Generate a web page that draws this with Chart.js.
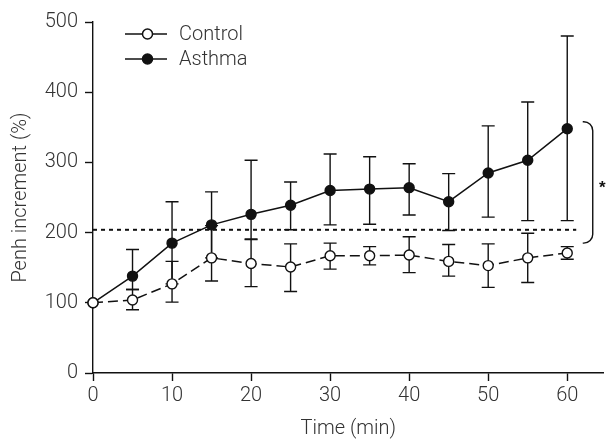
<!DOCTYPE html>
<html><head><meta charset="utf-8">
<script src="https://cdn.jsdelivr.net/npm/chart.js@4"></script>
<style>html,body{margin:0;padding:0;background:#fff}#wrap{width:610px;height:441px}</style>
</head><body><div id="wrap"><canvas id="c" width="610" height="441"></canvas></div>
<script>
const timeMin = [0,5,10,15,20,25,30,35,40,45,50,55,60];
const controlMean  = [100,104,127,164,156,151,167,167,168,159,153,164,171];
const controlUpper = [null,119,159,210,191,184,185,180,194,183,184,199,180];
const controlLower = [null,90,101,131,123,116,148,154,143,138,122,129,162];
const asthmaMean  = [100,138,185,211,226,239,260,262,264,244,285,303,348];
const asthmaUpper = [null,176,244,258,303,272,312,308,298,284,352,386,480];
const asthmaLower = [null,119,127,164,190,204,211,212,225,203,222,217,217];
const yTicks = [0,100,200,300,400,500];
const xTicks = [0,10,20,30,40,50,60];
const thresholdLevel = [204];
const significanceRange = [185,358];
const significanceLabel = ['*'];
const seriesLabels = ['Control','Asthma'];

const INK = '#111';
const TXT = '#333';
const FONT = {family:'Roboto, "Liberation Sans", sans-serif', size:20, weight:'300'};

const errBars = [[controlUpper,controlLower],[asthmaUpper,asthmaLower]];

const extrasPlugin = {
  id:'extras',
  beforeDatasetsDraw(chart){
    const ctx = chart.ctx, xs = chart.scales.x, ys = chart.scales.y;
    ctx.save();
    ctx.strokeStyle = INK; ctx.lineWidth = 2; ctx.setLineDash([4,4]);
    const ty = ys.getPixelForValue(thresholdLevel[0]);
    ctx.beginPath();
    ctx.moveTo(xs.getPixelForValue(timeMin[0]), ty);
    ctx.lineTo(xs.getPixelForValue(timeMin[timeMin.length-1]) + 9, ty);
    ctx.stroke();
    ctx.setLineDash([]);
    ctx.lineWidth = 1.4;
    errBars.forEach(([up,lo])=>{
      timeMin.forEach((t,i)=>{
        if (up[i]==null) return;
        const x = xs.getPixelForValue(t);
        const y1 = ys.getPixelForValue(up[i]), y2 = ys.getPixelForValue(lo[i]);
        ctx.beginPath();
        ctx.moveTo(x,y1); ctx.lineTo(x,y2);
        ctx.moveTo(x-6.5,y1); ctx.lineTo(x+6.5,y1);
        ctx.moveTo(x-6.5,y2); ctx.lineTo(x+6.5,y2);
        ctx.stroke();
      });
    });
    ctx.restore();
  },
  afterDraw(chart){
    const ctx = chart.ctx, xs = chart.scales.x, ys = chart.scales.y;
    ctx.save();
    const xr = xs.getPixelForValue(timeMin[timeMin.length-1]);
    const yTop = ys.getPixelForValue(significanceRange[1]);
    const yBot = ys.getPixelForValue(significanceRange[0]);
    const xl = xr + 15.5, xv = xr + 25.5, r = 9;
    ctx.strokeStyle = INK; ctx.lineWidth = 1.4;
    ctx.beginPath();
    ctx.moveTo(xl, yTop);
    ctx.arcTo(xv, yTop, xv, yTop + r, r);
    ctx.lineTo(xv, yBot - r);
    ctx.arcTo(xv, yBot, xl, yBot, r);
    ctx.lineTo(xl, yBot);
    ctx.stroke();
    ctx.fillStyle = INK;
    ctx.font = 'bold 17px "Liberation Sans", sans-serif';
    ctx.textAlign = 'center'; ctx.textBaseline = 'middle';
    ctx.fillText(significanceLabel[0], xr + 35, (yTop + yBot)/2 + 6);
    const ly = [34, 59];
    chart.data.datasets.forEach((ds, i)=>{
      const y = ly[i];
      ctx.strokeStyle = INK; ctx.lineWidth = 1.5; ctx.setLineDash([]);
      ctx.beginPath(); ctx.moveTo(125, y); ctx.lineTo(167, y); ctx.stroke();
      ctx.beginPath(); ctx.arc(147.5, y, 5, 0, Math.PI*2);
      ctx.fillStyle = ds.pointBackgroundColor; ctx.fill(); ctx.stroke();
      ctx.fillStyle = TXT;
      ctx.font = `${FONT.weight} ${FONT.size}px ${FONT.family}`;
      ctx.textAlign = 'left'; ctx.textBaseline = 'middle';
      ctx.fillText(ds.label, 179, y + 1);
    });
    ctx.restore();
  }
};

new Chart(document.getElementById('c'), {
  type:'line',
  data:{
    datasets:[
      {label:seriesLabels[0], data:timeMin.map((t,i)=>({x:t,y:controlMean[i]})),
       borderColor:INK, borderWidth:1.5, borderDash:[10,5], pointRadius:5,
       pointBackgroundColor:'#fff', pointBorderColor:INK, pointBorderWidth:1.4, clip:false},
      {label:seriesLabels[1], data:timeMin.map((t,i)=>({x:t,y:asthmaMean[i]})),
       borderColor:INK, borderWidth:1.5, pointRadius:5,
       pointBackgroundColor:INK, pointBorderColor:INK, pointBorderWidth:1.4, clip:false}
    ]
  },
  options:{
    responsive:false, animation:false, devicePixelRatio:1,
    layout:{padding:{top:22,right:-6,left:0,bottom:0}},
    plugins:{legend:{display:false}, tooltip:{enabled:false}},
    elements:{line:{tension:0}},
    scales:{
      x:{type:'linear', min:0, max:64.6,
        afterBuildTicks:s=>{s.ticks = xTicks.map(v=>({value:v}));},
        afterFit:s=>{s.height = 68;},
        ticks:{font:FONT, color:TXT, padding:3, maxRotation:0},
        grid:{drawOnChartArea:false, drawTicks:true, tickLength:8, tickColor:INK, tickWidth:1.4},
        border:{color:INK, width:1.4},
        title:{display:true, text:'Time (min)', font:FONT, color:TXT, padding:{top:2,bottom:0}}
      },
      y:{type:'linear', min:0, max:500,
        afterBuildTicks:s=>{s.ticks = yTicks.map(v=>({value:v}));},
        afterFit:s=>{s.width = 93;},
        ticks:{font:FONT, color:TXT, padding:7},
        grid:{drawOnChartArea:false, drawTicks:true, tickLength:8, tickColor:INK, tickWidth:1.4},
        border:{color:INK, width:1.4},
        title:{display:true, text:'Penh increment (%)', font:FONT, color:TXT, padding:{top:9,bottom:0}}
      }
    }
  },
  plugins:[extrasPlugin]
});
</script>
</body></html>
